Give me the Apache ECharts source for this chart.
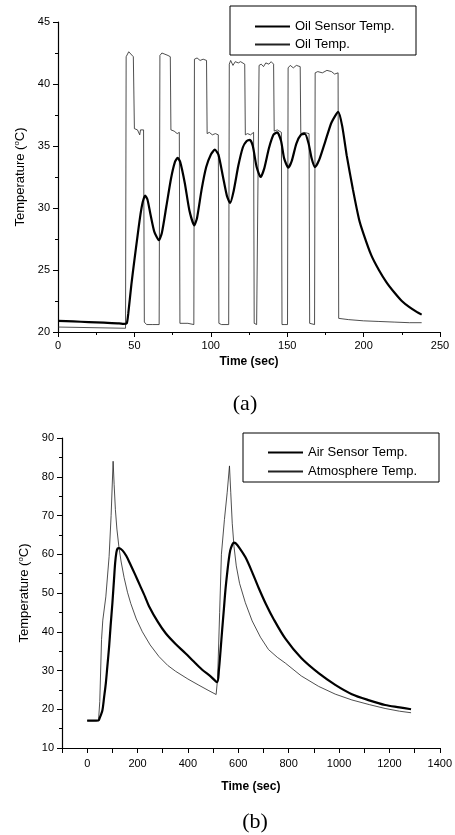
<!DOCTYPE html>
<html>
<head>
<meta charset="utf-8">
<script src="https://cdn.jsdelivr.net/npm/echarts@6/dist/echarts.min.js"></script>
<style>html,body{margin:0;padding:0;background:#fff}#c{width:455px;height:835px}</style>
</head>
<body>
<div id="c"></div>
<script>
// ---- Chart (a) ----
const oilSensorTime = [0, 10, 20, 30, 40, 43, 45, 46, 48, 50, 52, 54, 55.5, 57, 58.5, 60.5, 63, 66, 68, 71, 74, 76.5, 78.3, 80, 83, 86, 89.2, 91, 94, 97, 100, 102.7, 105, 108, 110.5, 112.6, 115, 118, 121, 123.5, 125.6, 127.5, 130, 132.6, 135, 138, 141, 143.5, 146, 148, 150.7, 153, 156, 159, 161.6, 164, 166, 168.2, 171, 175, 179, 183.4, 186, 189, 193, 197, 200, 205, 210, 215, 220, 225, 230, 235, 238];
const oilSensorTemp = [20.9, 20.85, 20.8, 20.75, 20.7, 20.65, 20.7, 21.5, 23.8, 25.8, 27.7, 29.5, 30.5, 31.0, 30.7, 29.5, 28.1, 27.4, 28.0, 30.2, 32.4, 33.7, 34.05, 33.7, 32.0, 29.8, 28.6, 29.2, 31.5, 33.3, 34.3, 34.7, 34.3, 32.5, 31.0, 30.4, 31.4, 33.4, 34.9, 35.4, 35.5, 35.0, 33.3, 32.5, 33.2, 34.8, 35.9, 36.1, 35.4, 34.0, 33.25, 33.8, 35.2, 35.9, 35.97, 35.2, 34.0, 33.3, 33.9, 35.4, 36.9, 37.75, 36.6, 34.2, 31.5, 29.1, 27.9, 26.2, 25.0, 24.0, 23.2, 22.5, 22.0, 21.6, 21.4];
const oilTime = [0, 44.2, 44.6, 46.3, 47.5, 49.3, 50.0, 52, 53.5, 54, 56.0, 56.5, 58, 62, 66.2, 66.7, 68, 70, 72, 73.5, 73.9, 76, 78, 79.4, 79.8, 81, 85, 88.9, 89.3, 91, 93, 95, 97.2, 97.6, 99, 101, 103, 104.9, 105.3, 107, 111.7, 112.1, 113, 114.5, 116, 118, 119.5, 122.2, 122.6, 124, 126, 128.0, 128.4, 130, 131.2, 131.6, 133, 134.5, 136, 138, 139.5, 141.1, 141.5, 143.5, 146.2, 146.6, 148.5, 150.2, 150.6, 152, 154, 156, 158.5, 158.9, 161, 164.3, 164.7, 166, 167.9, 168.3, 170, 173, 176, 179, 181, 183.3, 183.7, 190, 200, 210, 220, 230, 238];
const oilTemp = [20.4, 20.3, 42.2, 42.6, 42.5, 42.2, 36.4, 36.3, 35.9, 36.3, 36.3, 20.8, 20.6, 20.6, 20.6, 42.3, 42.5, 42.4, 42.3, 42.2, 36.3, 36.2, 36.0, 36.1, 20.7, 20.6, 20.7, 20.6, 42.0, 42.1, 41.9, 42.0, 41.9, 36.0, 36.1, 35.9, 36.0, 35.9, 20.7, 20.6, 20.6, 41.6, 41.9, 41.5, 41.8, 41.7, 41.8, 41.6, 35.9, 36.0, 35.9, 36.1, 20.7, 20.6, 20.6, 41.5, 41.6, 41.4, 41.7, 41.6, 41.8, 41.6, 36.2, 36.3, 36.1, 20.6, 20.6, 20.6, 41.3, 41.5, 41.3, 41.5, 41.4, 36.0, 36.1, 36.0, 20.7, 20.6, 20.6, 40.9, 41.0, 40.9, 41.1, 41.0, 40.8, 40.9, 21.1, 21.0, 20.9, 20.85, 20.8, 20.75, 20.75];

// ---- Chart (b) ----
const airSensorTime = [0, 20, 45, 50, 55, 60.7, 67, 74, 80, 87, 93, 100, 106, 111, 116, 121, 126.7, 140, 155, 170, 190, 210, 230, 245.5, 280, 311.7, 350, 391, 420, 456.6, 490, 516, 523, 530, 536, 543, 549, 556, 562, 568, 575.5, 582, 590, 605, 628.5, 655, 681, 710, 740, 787, 850, 919, 985, 1051, 1120, 1183, 1240, 1286];
const airSensorTemp = [17.05, 17.05, 17.1, 17.8, 18.6, 19.8, 23, 26.7, 31, 36.1, 41.5, 47.3, 53, 57.7, 60.5, 61.5, 61.6, 61.0, 59.6, 57.6, 54.8, 51.9, 49.0, 46.6, 42.6, 39.6, 36.9, 34.4, 32.5, 30.2, 28.5, 27.0, 30.1, 35.5, 40.5, 46, 50.8, 55.2, 58.5, 61, 62.4, 63.0, 62.8, 61.6, 59.2, 55.4, 51.3, 47.1, 43.3, 38.2, 33.2, 29.3, 26.3, 23.9, 22.3, 21.1, 20.5, 20.0];
const atmTime = [0, 20, 45, 50, 57, 62, 74, 87, 95, 103, 107, 112, 118, 126.7, 135, 146.5, 160, 173, 195, 219, 250, 285, 320, 351, 400, 443.6, 480, 512, 518, 526, 533, 545, 556, 565, 570, 576, 583, 592, 605, 628, 655, 688, 720, 755, 787, 850, 919, 985, 1051, 1120, 1183, 1240, 1286];
const atmTemp = [17.05, 17.05, 17.1, 22, 38, 43, 49, 59.4, 70, 84, 78, 71.5, 66.5, 61.5, 58, 54, 50.2, 47.3, 43.3, 40.0, 36.6, 33.6, 31.3, 29.8, 27.8, 26.2, 24.9, 23.8, 28, 45, 60, 69, 76, 82.8, 76, 68, 62, 57, 52.5, 47.5, 42.8, 38.6, 35.4, 33.4, 31.9, 28.6, 25.9, 23.9, 22.4, 21.2, 20.2, 19.5, 19.1];

const xTicksB = [0, 200, 400, 600, 800, 1000, 1200, 1400];

const zip = (a, b) => a.map((v, i) => [v, b[i]]);
const FONT = 'Liberation Sans, Arial, sans-serif';

function axisCommon() {
  return {
    axisLine: { show: true, onZero: false, lineStyle: { color: '#000', width: 1.2 } },
    axisTick: { show: true, inside: false, length: 5, lineStyle: { color: '#000', width: 1 } },
    minorTick: { show: true, splitNumber: 2, length: 3, lineStyle: { color: '#000', width: 1 } },
    splitLine: { show: false },
    axisLabel: { color: '#000', fontFamily: FONT, fontSize: 11, margin: 8 },
    nameTextStyle: { color: '#000', fontFamily: FONT }
  };
}

const chart = echarts.init(document.getElementById('c'), null, { renderer: 'canvas' });

const yName = 'Temperature ({s|o}C)';
const richSup = { s: { fontSize: 8, fontFamily: FONT, color: '#000', padding: [0, 0, 7, 0] } };

chart.setOption({
  animation: false,
  backgroundColor: '#fff',
  grid: [
    { left: 58, top: 22, width: 382, height: 310 },
    { left: 62, top: 438, width: 379.5, height: 310 }
  ],
  xAxis: [
    Object.assign(axisCommon(), {
      gridIndex: 0, type: 'value', min: 0, max: 250, interval: 50,
      name: 'Time (sec)', nameLocation: 'middle', nameGap: 24,
      nameTextStyle: { color: '#000', fontFamily: FONT, fontSize: 12, fontWeight: 'bold' }
    }),
    Object.assign(axisCommon(), {
      gridIndex: 1, type: 'value', min: -100, max: 1400, interval: 100,
      minorTick: { show: false },
      axisLabel: { color: '#000', fontFamily: FONT, fontSize: 11, margin: 10, interval: 0, showMinLabel: true, showMaxLabel: true,
        formatter: v => (xTicksB.indexOf(v) >= 0 ? String(v) : '') },
      name: 'Time (sec)', nameLocation: 'middle', nameGap: 33,
      nameTextStyle: { color: '#000', fontFamily: FONT, fontSize: 12, fontWeight: 'bold' }
    })
  ],
  yAxis: [
    Object.assign(axisCommon(), {
      gridIndex: 0, type: 'value', min: 20, max: 45, interval: 5,
      name: yName, nameLocation: 'middle', nameGap: 30, nameRotate: 90,
      nameTextStyle: { color: '#000', fontFamily: FONT, fontSize: 13, rich: richSup }
    }),
    Object.assign(axisCommon(), {
      gridIndex: 1, type: 'value', min: 10, max: 90, interval: 10,
      name: yName, nameLocation: 'middle', nameGap: 30, nameRotate: 90,
      nameTextStyle: { color: '#000', fontFamily: FONT, fontSize: 13, rich: richSup }
    })
  ],
  legend: [
    { orient: 'vertical', left: 249, top: 15, itemWidth: 35, itemHeight: 14, itemGap: 5,
      itemStyle: { color: 'transparent', borderWidth: 0, opacity: 0 },
      textStyle: { color: '#000', fontFamily: FONT, fontSize: 13 },
      data: ['Oil Sensor Temp.', 'Oil Temp.'] },
    { orient: 'vertical', left: 262, top: 441, itemWidth: 35, itemHeight: 14, itemGap: 6,
      itemStyle: { color: 'transparent', borderWidth: 0, opacity: 0 },
      textStyle: { color: '#000', fontFamily: FONT, fontSize: 13 },
      data: ['Air Sensor Temp.', 'Atmosphere Temp.'] }
  ],
  graphic: [
    { type: 'rect', shape: { x: 230, y: 6, width: 186, height: 49 }, style: { fill: 'none', stroke: '#000', lineWidth: 1 } },
    { type: 'rect', shape: { x: 243, y: 433, width: 196, height: 49 }, style: { fill: 'none', stroke: '#000', lineWidth: 1 } },
    { type: 'text', style: { text: '(a)', x: 245, y: 404, fill: '#000', font: '22px Liberation Serif, Times New Roman, serif', textAlign: 'center', textVerticalAlign: 'middle' } },
    { type: 'text', style: { text: '(b)', x: 255, y: 822, fill: '#000', font: '22px Liberation Serif, Times New Roman, serif', textAlign: 'center', textVerticalAlign: 'middle' } }
  ],
  series: [
    { name: 'Oil Sensor Temp.', type: 'line', xAxisIndex: 0, yAxisIndex: 0, symbol: 'none', smooth: 0.2,
      lineStyle: { color: '#000', width: 2.2 }, itemStyle: { color: '#000' }, data: zip(oilSensorTime, oilSensorTemp), z: 3 },
    { name: 'Oil Temp.', type: 'line', xAxisIndex: 0, yAxisIndex: 0, symbol: 'none',
      lineStyle: { color: '#222', width: 0.8 }, itemStyle: { color: '#222' }, data: zip(oilTime, oilTemp), z: 2 },
    { name: 'Air Sensor Temp.', type: 'line', xAxisIndex: 1, yAxisIndex: 1, symbol: 'none', smooth: 0.3,
      lineStyle: { color: '#000', width: 2.2 }, itemStyle: { color: '#000' }, data: zip(airSensorTime, airSensorTemp), z: 3 },
    { name: 'Atmosphere Temp.', type: 'line', xAxisIndex: 1, yAxisIndex: 1, symbol: 'none',
      lineStyle: { color: '#222', width: 0.8 }, itemStyle: { color: '#222' }, data: zip(atmTime, atmTemp), z: 2 }
  ]
});
</script>
</body>
</html>
